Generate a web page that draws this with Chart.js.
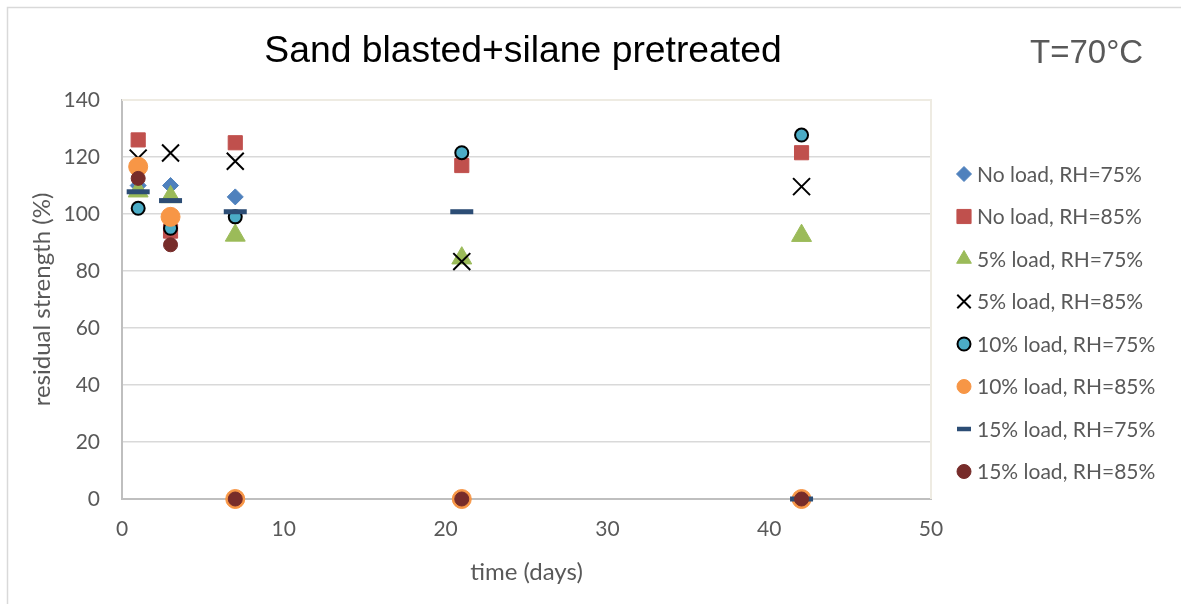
<!DOCTYPE html>
<html>
<head>
<meta charset="utf-8">
<script src="https://cdn.jsdelivr.net/npm/chart.js@4.4.1/dist/chart.umd.min.js"></script>
<style>
  html, body { margin: 0; padding: 0; background: #fff; }
  #wrap { width: 1181px; height: 604px; }
</style>
</head>
<body>
<div id="wrap"><canvas id="myChart" width="1181" height="604"></canvas></div>
<script>
// test days
const days = [1, 3, 7, 21, 42];

const seriesNames = [
    'No load, RH=75%',
    'No load, RH=85%',
    '5% load, RH=75%',
    '5% load, RH=85%',
    '10% load, RH=75%',
    '10% load, RH=85%',
    '15% load, RH=75%',
    '15% load, RH=85%'
];

// residual strength (%) per day, null = no point
const noLoad75 = [110, 110, 106, null, null];
const noLoad85 = [126, 94, 125, 117, 121.5];
const load5_75 = [108, 106, 92.5, 84.5, 92.4];
const load5_85 = [119.6, 121.4, 118.5, 83.3, 109.6];
const load10_75 = [102, 95, 99, 121.5, 127.7];
const load10_85 = [116.6, 99, 0, 0, 0];
const load15_75 = [107.8, 104.7, 100.8, 100.8, 0];
const load15_85 = [112.5, 89.2, 0, 0, 0];

const xMax = 50;
const yMax = 140;

const allValues = [noLoad75, noLoad85, load5_75, load5_85, load10_75, load10_85, load15_75, load15_85];

function toPoints(vals) {
    return days.map((d, i) => ({ x: d, y: vals[i] })).filter(p => p.y !== null);
}

const styles = [
    { pointStyle: 'rectRot', pointRadius: 8, backgroundColor: '#4F81BD', borderColor: '#4F81BD', pointBorderWidth: 1 },
    { pointStyle: 'rect', pointRadius: 10, backgroundColor: '#C0504D', borderColor: '#C0504D', pointBorderWidth: 1 },
    { pointStyle: 'triangle', pointRadius: 11.5, backgroundColor: '#9BBB59', borderColor: '#9BBB59', pointBorderWidth: 1 },
    { pointStyle: 'crossRot', pointRadius: 12, backgroundColor: '#000', borderColor: '#000', pointBorderWidth: 2 },
    { pointStyle: 'circle', pointRadius: 6.5, backgroundColor: '#4BACC6', borderColor: '#000', pointBorderWidth: 2 },
    { pointStyle: 'circle', pointRadius: 9.5, backgroundColor: '#F79646', borderColor: '#F79646', pointBorderWidth: 1 },
    { pointStyle: 'line', pointRadius: 11.5, backgroundColor: '#2C4D75', borderColor: '#2C4D75', pointBorderWidth: 5 },
    { pointStyle: 'circle', pointRadius: 7, backgroundColor: '#772C2A', borderColor: '#772C2A', pointBorderWidth: 1 }
];
const legendRadius = [7.5, 10, 8.5, 9.5, 6.5, 7, 7, 7];

const datasets = allValues.map((vals, i) => Object.assign({
    label: seriesNames[i],
    data: toPoints(vals),
    showLine: false,
    clip: false,
    order: allValues.length - i
}, styles[i]));

Chart.defaults.font.family = 'Lato';

const chartDecor = {
    id: 'chartDecor',
    beforeDraw(chart) {
        const ctx = chart.ctx;
        ctx.save();
        ctx.fillStyle = '#fff';
        ctx.fillRect(0, 0, chart.width, chart.height);
        // outer chart frame
        ctx.strokeStyle = '#D9D9D9';
        ctx.lineWidth = 1.5;
        ctx.beginPath();
        ctx.moveTo(7.5, chart.height + 2);
        ctx.lineTo(7.5, 7.5);
        ctx.lineTo(chart.width + 2, 7.5);
        ctx.stroke();
        ctx.restore();
    },
    beforeDatasetsDraw(chart) {
        const ctx = chart.ctx;
        const a = chart.chartArea;
        ctx.save();
        ctx.strokeStyle = '#EEEBE2';
        ctx.lineWidth = 2;
        ctx.beginPath();
        ctx.moveTo(a.left, a.top);
        ctx.lineTo(a.right, a.top);
        ctx.lineTo(a.right, a.bottom);
        ctx.stroke();
        ctx.restore();
    },
    afterDraw(chart) {
        const ctx = chart.ctx;
        ctx.save();
        ctx.textBaseline = 'middle';
        ctx.fillStyle = '#000';
        ctx.font = '37.3px "Liberation Sans", Arial, sans-serif';
        ctx.textAlign = 'center';
        ctx.fillText('Sand blasted+silane pretreated', 523, 52);
        ctx.fillStyle = '#595959';
        ctx.font = '33px "Liberation Sans", Arial, sans-serif';
        ctx.textAlign = 'left';
        ctx.fillText('T=70°C', 1030, 54);

        // legend
        ctx.font = '21px Lato';
        chart.data.datasets.forEach((ds, i) => {
            const y = 174 + i * 42.5;
            ctx.fillStyle = ds.backgroundColor;
            ctx.strokeStyle = ds.borderColor;
            ctx.lineWidth = ds.pointStyle === 'line' ? 4.5 : ds.pointBorderWidth;
            Chart.helpers.drawPoint(ctx, { pointStyle: ds.pointStyle, radius: legendRadius[i], rotation: 0, borderWidth: ctx.lineWidth }, 964, y);
            ctx.fillStyle = '#595959';
            ctx.textAlign = 'left';
            ctx.fillText(ds.label, 977, y + 1);
        });
        ctx.restore();
    }
};

const config = {
    type: 'scatter',
    data: { datasets: datasets },
    options: {
        responsive: false,
        animation: false,
        events: [],
        devicePixelRatio: 1,
        layout: { padding: { left: 0, top: 100, right: 250, bottom: 0 } },
        plugins: {
            legend: { display: false },
            tooltip: { enabled: false }
        },
        scales: {
            x: {
                type: 'linear',
                min: 0,
                max: xMax,
                ticks: { stepSize: 10, color: '#595959', font: { size: 21 }, padding: 18 },
                grid: { display: false, drawTicks: false },
                border: { display: true, color: '#BFBFBF', width: 2 },
                title: { display: true, text: 'time (days)', color: '#595959', font: { size: 24 }, padding: { top: 0, bottom: 17 } },
                afterFit(scale) { scale.height = 105; }
            },
            y: {
                type: 'linear',
                min: 0,
                max: yMax,
                ticks: { stepSize: 20, color: '#595959', font: { size: 21 }, padding: 22 },
                grid: {
                    drawTicks: false,
                    lineWidth: 1.5,
                    color: c => (c.tick && c.tick.value === yMax) ? 'rgba(0,0,0,0)' : '#D9D9D9'
                },
                border: { display: true, color: '#BFBFBF', width: 2 },
                title: { display: true, text: 'residual strength (%)', color: '#595959', font: { size: 24 }, padding: { top: 28, bottom: 0 } },
                afterFit(scale) { scale.width = 122; }
            }
        }
    },
    plugins: [chartDecor]
};

const myChart = new Chart(
    document.getElementById('myChart'),
    config
);
</script>
</body>
</html>
